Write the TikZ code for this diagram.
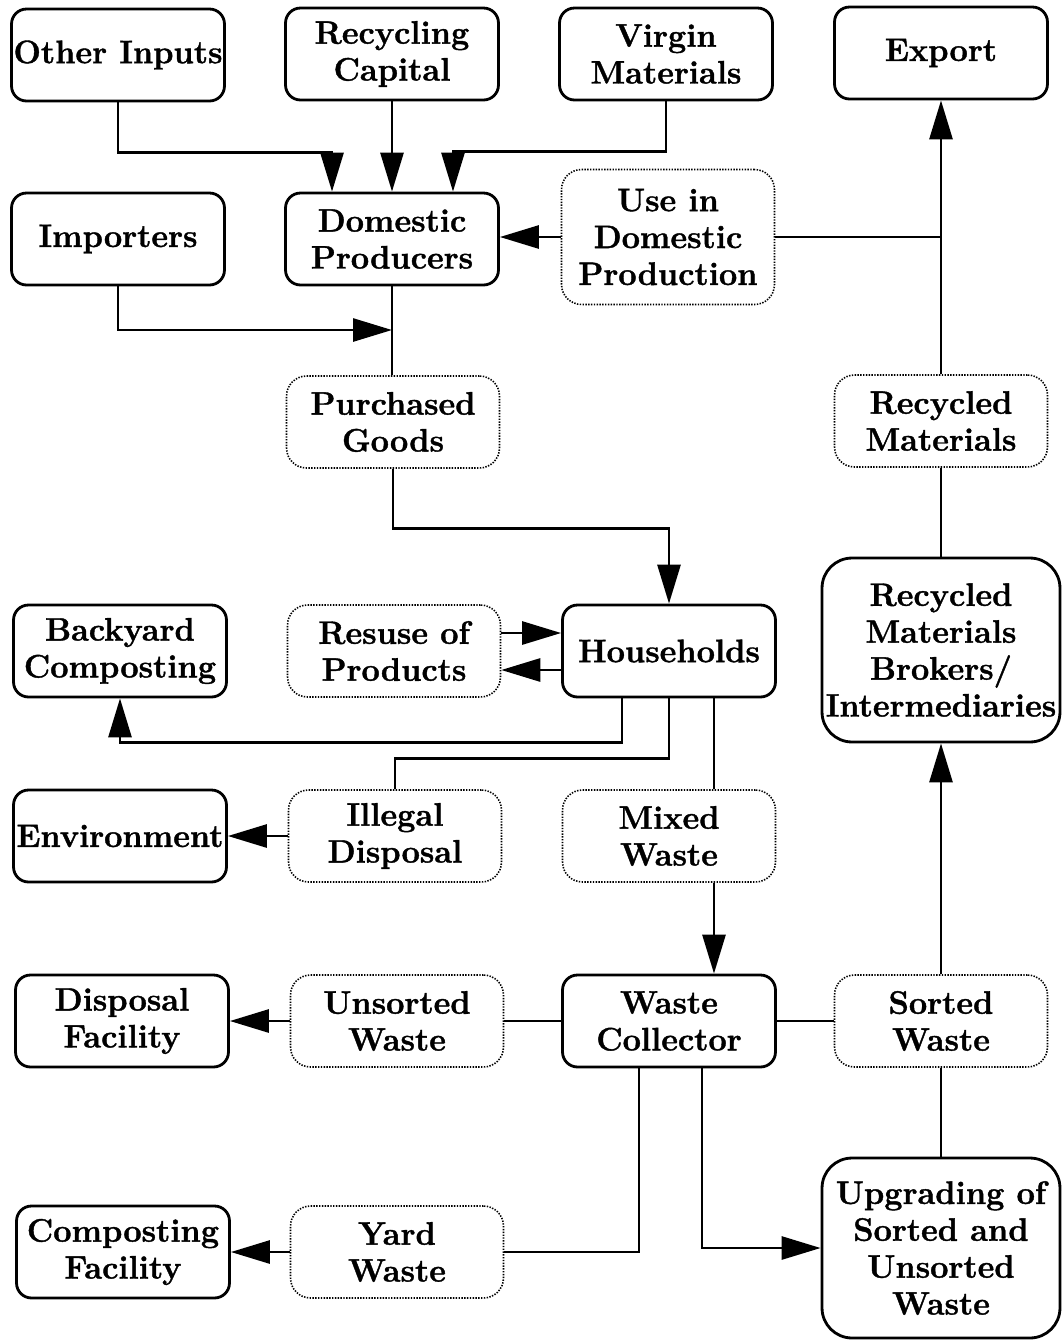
\documentclass[tikz,border=0pt]{standalone}
\usepackage{fontspec}
\setmainfont{Latin Modern Roman}[BoldFeatures={FakeBold=1.2}]
\usetikzlibrary{arrows.meta}
\begin{document}
\begin{tikzpicture}[x=0.02cm,y=-0.02cm,
  every node/.style={align=center,inner sep=0pt,
    font=\fontsize{18.5}{21}\selectfont\bfseries},
  solidbox/.style={draw,line width=1.6pt,rounded corners=0.3cm,
    minimum width=4.26cm,minimum height=1.84cm},
  bigbox/.style={solidbox,rounded corners=0.6cm,minimum width=4.76cm},
  flowbox/.style={draw,line width=0.9pt,dash pattern=on 0.8pt off 0.8pt,
    rounded corners=0.4cm,minimum width=4.26cm,minimum height=1.84cm},
  link/.style={line width=1.6pt},
  arr/.style={link,-{Triangle[length=0.78cm,width=0.46cm]}}]
\useasboundingbox (0,0) rectangle (1062,1340);

% suppliers and producers
\node[solidbox] (oth) at (118,55) {Other Inputs};
\node[solidbox] (rc) at (392,54) {Recycling\\Capital};
\node[solidbox] (vm) at (666,54) {Virgin\\Materials};
\node[solidbox] (exp) at (941,53) {Export};
\node[solidbox] (imp) at (118,239) {Importers};
\node[solidbox] (dp) at (392,239) {Domestic\\Producers};
\node[flowbox,minimum height=2.7cm] (use) at (668,237) {Use in\\Domestic\\Production};
\node[flowbox] (pg) at (393,422) {Purchased\\Goods};
\node[flowbox] (rm) at (941,421) {Recycled\\Materials};

% households and their outlets
\node[solidbox] (bc) at (120,651) {Backyard\\Composting};
\node[flowbox] (rp) at (394,651) {Resuse of\\Products};
\node[solidbox] (hh) at (669,651) {Households};
\node[bigbox,minimum height=3.68cm] (br) at (941,650) {Recycled\\Materials\\Brokers/\\Intermediaries};
\node[solidbox] (env) at (120,836) {Environment};
\node[flowbox] (il) at (395,836) {Illegal\\Disposal};
\node[flowbox] (mw) at (669,836) {Mixed\\Waste};

% collection and treatment
\node[solidbox] (df) at (122,1021) {Disposal\\Facility};
\node[flowbox] (uw) at (397,1021) {Unsorted\\Waste};
\node[solidbox] (wc) at (669,1021) {Waste\\Collector};
\node[flowbox] (sw) at (941,1021) {Sorted\\Waste};
\node[solidbox] (cf) at (123,1252) {Composting\\Facility};
\node[flowbox] (yw) at (397,1252) {Yard\\Waste};
\node[bigbox,minimum height=3.6cm] (up) at (941,1248) {Upgrading of\\Sorted and\\Unsorted\\Waste};

\coordinate (impin) at (392,330);

% inputs to domestic producers
\draw[arr] (oth.south) -- ++(0,50) -| ([xshift=-1.2cm]dp.north);
\draw[arr] (rc.south) -- (dp.north);
\draw[arr] (vm.south) -- ++(0,50) -| ([xshift=1.22cm]dp.north);
\draw[arr] (imp.south) |- (impin);
\draw[link] (dp.south) -- (dp.south |- pg.north);
\draw[arr] (use.west) -- (use.west -| dp.east);
\draw[link] (use.east) -- (use.east -| rm.north);
\draw[arr] (rm.north) -- (exp.south);
\draw[link] (br.north) -- (rm.south);

% goods to households and beyond
\draw[arr] (pg.south) -- ++(0,60) -| (hh.north);
\draw[arr] ([yshift=0.36cm]rp.east) -- ([yshift=0.36cm]rp.east -| hh.west);
\draw[arr] ([yshift=-0.38cm]hh.west) -- ([yshift=-0.38cm]hh.west -| rp.east);
\draw[arr] ([xshift=-0.94cm]hh.south) -- ++(0,44) -| (bc.south);
\draw[link] (hh.south) -- ++(0,60) -| (il.north);
\draw[arr] (il.west) -- (il.west -| env.east);
\draw[link] ([xshift=0.9cm]hh.south) -- ([xshift=0.9cm]mw.north);
\draw[arr] ([xshift=0.9cm]mw.south) -- ([xshift=0.9cm]wc.north);

% waste streams
\draw[arr] (uw.west) -- (uw.west -| df.east);
\draw[link] (wc.west) -- (wc.west -| uw.east);
\draw[link] (wc.east) -- (wc.east -| sw.west);
\draw[arr] (sw.north) -- (br.south);
\draw[link] (up.north) -- (sw.south);
\draw[link] ([xshift=-0.6cm]wc.south) |- (yw.east);
\draw[arr] (yw.west) -- (yw.west -| cf.east);
\draw[arr] ([xshift=0.66cm]wc.south) |- (up.west);
\end{tikzpicture}
\end{document}
